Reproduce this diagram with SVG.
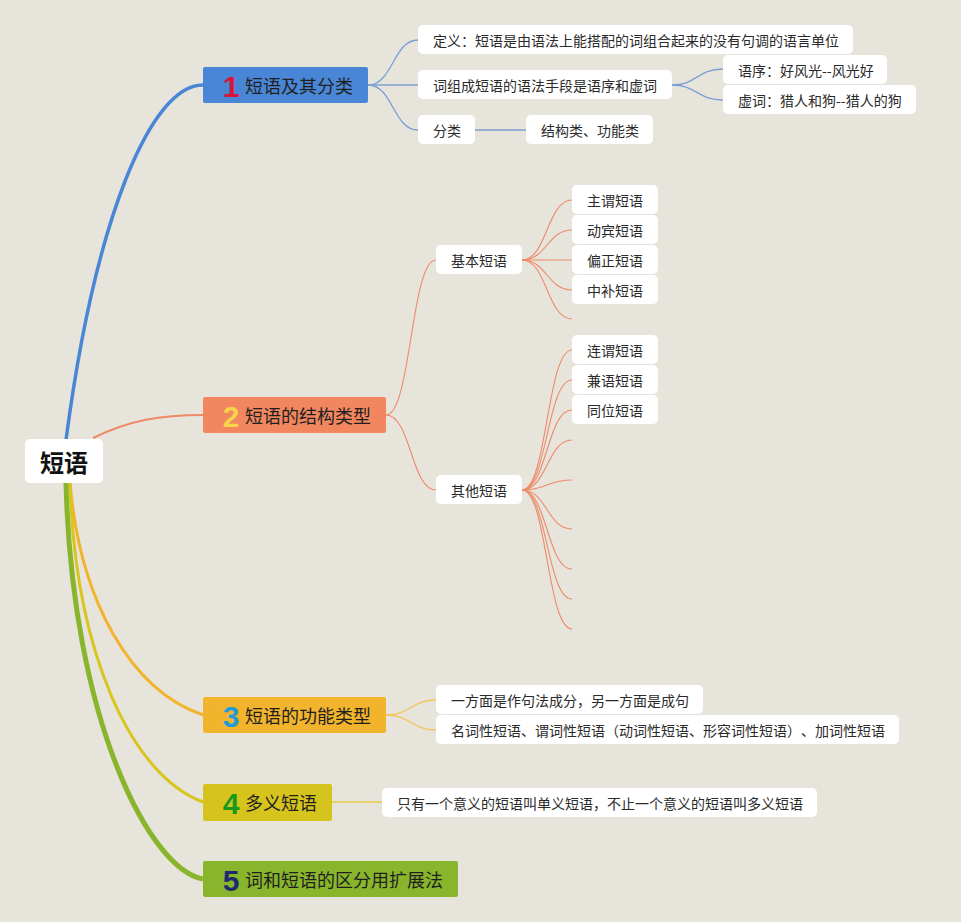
<svg xmlns="http://www.w3.org/2000/svg" width="961" height="922" viewBox="0 0 961 922">
<style>
text{font-family:"Noto Sans CJK SC","Noto Sans",sans-serif;dominant-baseline:central;fill:#222;text-spacing-trim:space-all}
.leaf{fill:#fff}
.lt{font-size:14px;fill:#2a2a2a}
.bt{font-size:18px;fill:#1f1f1f}
.num{font-family:"Liberation Sans","DejaVu Sans",sans-serif;font-weight:bold;font-size:30px;text-anchor:middle}
.c{fill:none}
.cb{stroke:#7C9FD3;stroke-width:1.3}
.cs{stroke:#EE8A68;stroke-width:1.1}
.co{stroke:#F0C659;stroke-width:1.3}
.cy{stroke:#E3D169;stroke-width:2}
</style>
<rect width="961" height="922" fill="#E7E4DC"/>
<g id="connectors">
<path class="c" d="M66,440 C95,220 150,85 203,85" stroke="#4A86D6" stroke-width="3.5"/>
<path class="c" d="M93,438 C130,420 160,415 203,415" stroke="#EE8A68" stroke-width="2"/>
<path class="c" d="M70,483 C80,600 130,690 203,715" stroke="#F2B42C" stroke-width="3"/>
<path class="c" d="M70,483 C75,650 130,775 203,802" stroke="#D8C51E" stroke-width="3"/>
<path class="c" d="M66,483 C72,720 150,870 203,879" stroke="#88B52B" stroke-width="5"/>
<path class="c cb" d="M368,85 C393,85 393,40 418,40"/>
<path class="c cb" d="M368,85 L418,85"/>
<path class="c cb" d="M368,85 C393,85 393,130 418,130"/>
<path class="c cb" d="M475,130 L526,130" stroke-width="2"/>
<path class="c cb" d="M672,85 C697,85 697,69 723,69"/>
<path class="c cb" d="M672,85 C697,85 697,100 723,100"/>
<path class="c cs" d="M386,415 C411,415 411,260 436,260"/>
<path class="c cs" d="M386,415 C411,415 411,490 436,490"/>
<path class="c cs" d="M522,260 C547,260 547,200 572,200"/>
<path class="c cs" d="M522,260 C547,260 547,230 572,230"/>
<path class="c cs" d="M522,260 L572,260" stroke-width="1.5"/>
<path class="c cs" d="M522,260 C547,260 547,290 572,290"/>
<path class="c cs" d="M522,260 C547,260 547,319 572,319"/>
<path class="c cs" d="M522,490 C547,490 547,350 572,350"/>
<path class="c cs" d="M522,490 C547,490 547,380 572,380"/>
<path class="c cs" d="M522,490 C547,490 547,410 572,410"/>
<path class="c cs" d="M522,490 C547,490 547,440 572,440"/>
<path class="c cs" d="M522,490 C547,490 547,480 572,480"/>
<path class="c cs" d="M522,490 C547,490 547,529 572,529"/>
<path class="c cs" d="M522,490 C547,490 547,569 572,569"/>
<path class="c cs" d="M522,490 C547,490 547,599 572,599"/>
<path class="c cs" d="M522,490 C547,490 547,629 572,629"/>
<path class="c co" d="M386,715 C411,715 411,700 436,700"/>
<path class="c co" d="M386,715 C411,715 411,730 436,730"/>
<path class="c cy" d="M332,802 L382,802"/>
</g>
<g id="root">
<rect x="25" y="439" width="78" height="44" rx="5" fill="#fff"/>
<text x="64" y="461" text-anchor="middle" font-size="24" font-weight="bold" style="fill:#111">短语</text>
</g>
<g id="b1">
<rect x="203" y="67" width="165" height="36" rx="2" fill="#4A86D6"/>
<text class="num" x="231" y="86" style="fill:#D7143A">1</text>
<text class="bt" x="245" y="85">短语及其分类</text>
</g>
<g id="b2">
<rect x="203" y="397" width="183" height="36" rx="2" fill="#F2865F"/>
<text class="num" x="231" y="416" style="fill:#F9D34A">2</text>
<text class="bt" x="245" y="415">短语的结构类型</text>
</g>
<g id="b3">
<rect x="203" y="697" width="183" height="36" rx="2" fill="#F2B42C"/>
<text class="num" x="231" y="716" style="fill:#1E9BD8">3</text>
<text class="bt" x="245" y="715">短语的功能类型</text>
</g>
<g id="b4">
<rect x="203" y="784" width="129" height="37" rx="2" fill="#D6C31C"/>
<text class="num" x="231" y="803" style="fill:#17991F">4</text>
<text class="bt" x="245" y="802">多义短语</text>
</g>
<g id="b5">
<rect x="203" y="861" width="255" height="36" rx="2" fill="#88B52B"/>
<text class="num" x="231" y="880" style="fill:#1F2A6E">5</text>
<text class="bt" x="245" y="879">词和短语的区分用扩展法</text>
</g>
<g id="n-def"><rect class="leaf" x="418" y="25" width="435" height="29" rx="5"/><text class="lt" x="433" y="40">定义：短语是由语法上能搭配的词组合起来的没有句调的语言单位</text></g>
<g id="n-means"><rect class="leaf" x="418" y="70" width="254" height="29" rx="5"/><text class="lt" x="433" y="85">词组成短语的语法手段是语序和虚词</text></g>
<g id="n-order"><rect class="leaf" x="723" y="55" width="164" height="29" rx="5"/><text class="lt" x="738" y="70">语序：好风光--风光好</text></g>
<g id="n-func"><rect class="leaf" x="723" y="85" width="193" height="29" rx="5"/><text class="lt" x="738" y="100">虚词：猎人和狗--猎人的狗</text></g>
<g id="n-class"><rect class="leaf" x="418" y="115" width="57" height="29" rx="5"/><text class="lt" x="433" y="130">分类</text></g>
<g id="n-classv"><rect class="leaf" x="526" y="115" width="127" height="29" rx="5"/><text class="lt" x="541" y="130">结构类、功能类</text></g>
<g id="n-basic"><rect class="leaf" x="436" y="245" width="86" height="29" rx="5"/><text class="lt" x="451" y="260">基本短语</text></g>
<g id="n-other"><rect class="leaf" x="436" y="475" width="86" height="29" rx="5"/><text class="lt" x="451" y="490">其他短语</text></g>
<g id="n-zw"><rect class="leaf" x="572" y="185" width="86" height="29" rx="5"/><text class="lt" x="587" y="200">主谓短语</text></g>
<g id="n-db"><rect class="leaf" x="572" y="215" width="86" height="29" rx="5"/><text class="lt" x="587" y="230">动宾短语</text></g>
<g id="n-pz"><rect class="leaf" x="572" y="245" width="86" height="29" rx="5"/><text class="lt" x="587" y="260">偏正短语</text></g>
<g id="n-zb"><rect class="leaf" x="572" y="275" width="86" height="29" rx="5"/><text class="lt" x="587" y="290">中补短语</text></g>
<g id="n-lw"><rect class="leaf" x="572" y="335" width="86" height="29" rx="5"/><text class="lt" x="587" y="350">连谓短语</text></g>
<g id="n-jy"><rect class="leaf" x="572" y="365" width="86" height="29" rx="5"/><text class="lt" x="587" y="380">兼语短语</text></g>
<g id="n-tw"><rect class="leaf" x="572" y="395" width="86" height="29" rx="5"/><text class="lt" x="587" y="410">同位短语</text></g>
<g id="n-f1"><rect class="leaf" x="436" y="685" width="267" height="29" rx="5"/><text class="lt" x="451" y="700">一方面是作句法成分，另一方面是成句</text></g>
<g id="n-f2"><rect class="leaf" x="436" y="715" width="463" height="29" rx="5"/><text class="lt" x="451" y="730">名词性短语、谓词性短语（动词性短语、形容词性短语）、加词性短语</text></g>
<g id="n-dy"><rect class="leaf" x="382" y="788" width="435" height="29" rx="5"/><text class="lt" x="397" y="803">只有一个意义的短语叫单义短语，不止一个意义的短语叫多义短语</text></g>
</svg>
